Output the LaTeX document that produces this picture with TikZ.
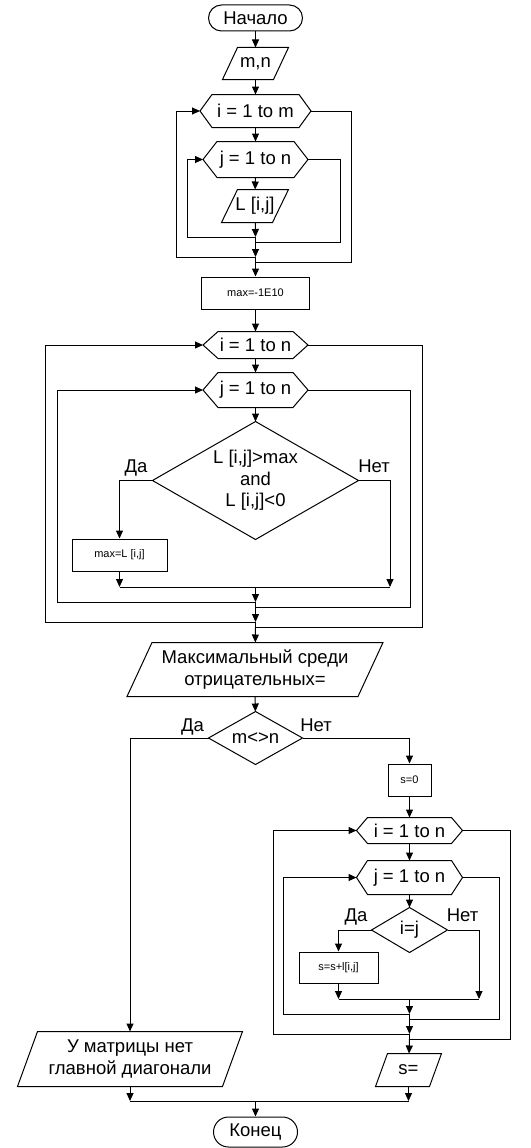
\documentclass[tikz,border=0pt]{standalone}
\usepackage{fontspec}
\setmainfont{Liberation Sans}
\usetikzlibrary{arrows.meta}
\newcommand\hexnode[7]{%
  \node[txt, minimum width=#4pt, minimum height=#5pt] (#1) at (#2,#3) {#7};
  \draw (#1.west) -- ([xshift=#6pt]#1.north west) -- ([xshift=-#6pt]#1.north east) -- (#1.east) -- ([xshift=-#6pt]#1.south east) -- ([xshift=#6pt]#1.south west) -- cycle;}
\newcommand\parnode[7]{%
  \node[txt, minimum width=#4pt, minimum height=#5pt] (#1) at (#2,#3) {#7};
  \draw ([xshift=#6pt]#1.north west) -- ([xshift=#6pt]#1.north east) -- ([xshift=-#6pt]#1.south east) -- ([xshift=-#6pt]#1.south west) -- cycle;}
\newcommand\dianode[6]{%
  \node[txt, minimum width=#4pt, minimum height=#5pt] (#1) at (#2,#3) {#6};
  \draw (#1.north) -- (#1.east) -- (#1.south) -- (#1.west) -- cycle;}
\begin{document}
\begin{tikzpicture}[x=1pt,y=-1pt,line width=1pt,
  >={Triangle[length=8pt,width=7pt]},
  txt/.style={inner sep=0pt,align=center,font=\fontsize{18.5}{21.5}\selectfont},
  lbl/.style={inner sep=0pt,anchor=base,font=\fontsize{18.5}{21.5}\selectfont},
  procbox/.style={draw,inner sep=0pt,font=\fontsize{11}{12}\selectfont},
  term/.style={draw,txt}]
\useasboundingbox (0,0) rectangle (530,1148);

% ---------- top ----------
\node[term,rounded corners=13pt,minimum width=94pt,minimum height=26pt] (start) at (255.5,18) {Начало};
\parnode{mn}{255.5}{63.5}{50}{31}{7.5}{m,n}
\hexnode{hexA}{255.5}{111}{110}{32}{12}{i = 1 to m}
\hexnode{hexB}{255.5}{159.5}{104}{35}{14}{j = 1 to n}
\parnode{Lin}{255}{206}{50}{32}{8}{L [i,j]}

\draw[->] (start) -- (mn);
\draw[->] (mn) -- (hexA);
\draw[->] (hexA) -- (hexB);
\draw[->] (hexB) -- (Lin);

\coordinate (a1) at (255.5,237);
\coordinate (a2) at (255.5,242);
\coordinate (a3) at (255.5,257);
\coordinate (a4) at (255.5,262);
\coordinate (bl) at (187,237);
\coordinate (br) at (340.5,242);
\coordinate (al) at (176,257);
\coordinate (ar) at (351.5,262);

\draw[->] (Lin) -- (a1);
\draw[->] (a1) -- (bl) |- (hexB.west);
\draw (hexB.east) -| (br) -- (a2);
\draw (a1) -- (a2);
\draw[->] (a2) -- (a3);
\draw[->] (a3) -- (al) |- (hexA.west);
\draw (hexA.east) -| (ar) -- (a4);
\draw (a3) -- (a4);

% ---------- middle ----------
\node[procbox,minimum width=108pt,minimum height=32pt] (init) at (255.5,293) {max=-1E10};
\draw[->] (a4) -- (init);
\hexnode{hexC}{255.5}{345}{104}{26}{15}{i = 1 to n}
\hexnode{hexD}{255.5}{390}{104}{34}{15}{j = 1 to n}
\dianode{dia1}{255.5}{480.5}{205}{117}{L [i,j]>max\\and\\L [i,j]<0}
\node[procbox,minimum width=95pt,minimum height=32pt] (setmax) at (119.5,555) {max=L [i,j]};
\node[lbl] (yes1) at (136,472.5) {Да};
\node[lbl] (no1) at (374,472.5) {Нет};

\draw[->] (init) -- (hexC);
\draw[->] (hexC) -- (hexD);
\draw[->] (hexD) -- (dia1);
\draw[->] (dia1.west) -| (setmax);

\coordinate (y1) at (119.5,587);
\coordinate (n1) at (390,587);
\coordinate (b1) at (255.5,587);
\coordinate (b2) at (255.5,602);
\coordinate (b3) at (255.5,607);
\coordinate (b4) at (255.5,622);
\coordinate (b5) at (255.5,627);
\coordinate (dl) at (57,602);
\coordinate (dr) at (410,607);
\coordinate (cl) at (45,622);
\coordinate (cr) at (422,627);

\draw[->] (dia1.east) -| (n1);
\draw[->] (setmax) -- (y1);
\draw (y1) -- (n1);
\draw[->] (b1) -- (b2);
\draw[->] (b2) -- (dl) |- (hexD.west);
\draw (hexD.east) -| (dr) -- (b3);
\draw (b2) -- (b3);
\draw[->] (b3) -- (b4);
\draw[->] (b4) -- (cl) |- (hexC.west);
\draw (hexC.east) -| (cr) -- (b5);
\draw (b4) -- (b5);

\parnode{out1}{255}{669.5}{230}{53}{12.5}{Максимальный среди\\отрицательных=}
\draw[->] (b5) -- (out1);

% ---------- lower ----------
\dianode{dia2}{255.5}{738}{93}{52}{m<>n}
\node[lbl] (yes2) at (192.5,731.5) {Да};
\node[lbl] (no2) at (316,731.5) {Нет};
\draw[->] (out1) -- (dia2);

\parnode{out2}{130}{1059}{204}{54}{10}{У матрицы нет\\главной диагонали}
\draw[->] (dia2.west) -| (out2);

\node[procbox,minimum width=43pt,minimum height=32pt] (s0) at (409.5,780) {s=0};
\draw[->] (dia2.east) -| (s0);

\hexnode{hexE}{409.5}{830.5}{105}{25}{11}{i = 1 to n}
\hexnode{hexF}{409.5}{877.5}{105}{33}{11}{j = 1 to n}
\dianode{dia3}{409.5}{930}{75}{44}{i=j}
\node[procbox,minimum width=79pt,minimum height=31pt] (sum) at (338.5,967.5) {s=s+l[i,j]};
\node[lbl] (yes3) at (356,921) {Да};
\node[lbl] (no3) at (462.5,921) {Нет};

\draw[->] (s0) -- (hexE);
\draw[->] (hexE) -- (hexF);
\draw[->] (hexF) -- (dia3);
\draw[->] (dia3.west) -| (sum);

\coordinate (y2) at (338.5,999);
\coordinate (n2) at (479,999);
\coordinate (c1) at (409.5,999);
\coordinate (c2) at (409.5,1014);
\coordinate (c3) at (409.5,1019);
\coordinate (c4) at (409.5,1034);
\coordinate (c5) at (409.5,1039);
\coordinate (fl) at (283,1014);
\coordinate (fr) at (499,1019);
\coordinate (el) at (273,1034);
\coordinate (er) at (510,1039);

\draw[->] (dia3.east) -| (n2);
\draw[->] (sum) -- (y2);
\draw (y2) -- (n2);
\draw[->] (c1) -- (c2);
\draw[->] (c2) -- (fl) |- (hexF.west);
\draw (hexF.east) -| (fr) -- (c3);
\draw (c2) -- (c3);
\draw[->] (c3) -- (c4);
\draw[->] (c4) -- (el) |- (hexE.west);
\draw (hexE.east) -| (er) -- (c5);
\draw (c4) -- (c5);

\parnode{out3}{408.5}{1070}{53}{32}{6}{s=}
\draw[->] (c5) -- (out3);

% ---------- bottom ----------
\coordinate (e1) at (130,1101);
\coordinate (e2) at (408.5,1101);
\coordinate (e3) at (255.5,1101);
\node[term,rounded corners=15pt,minimum width=84pt,minimum height=30pt] (stop) at (255.5,1132) {Конец};
\draw[->] (out2) -- (e1);
\draw[->] (out3) -- (e2);
\draw (e1) -- (e2);
\draw[->] (e3) -- (stop);
\end{tikzpicture}
\end{document}
